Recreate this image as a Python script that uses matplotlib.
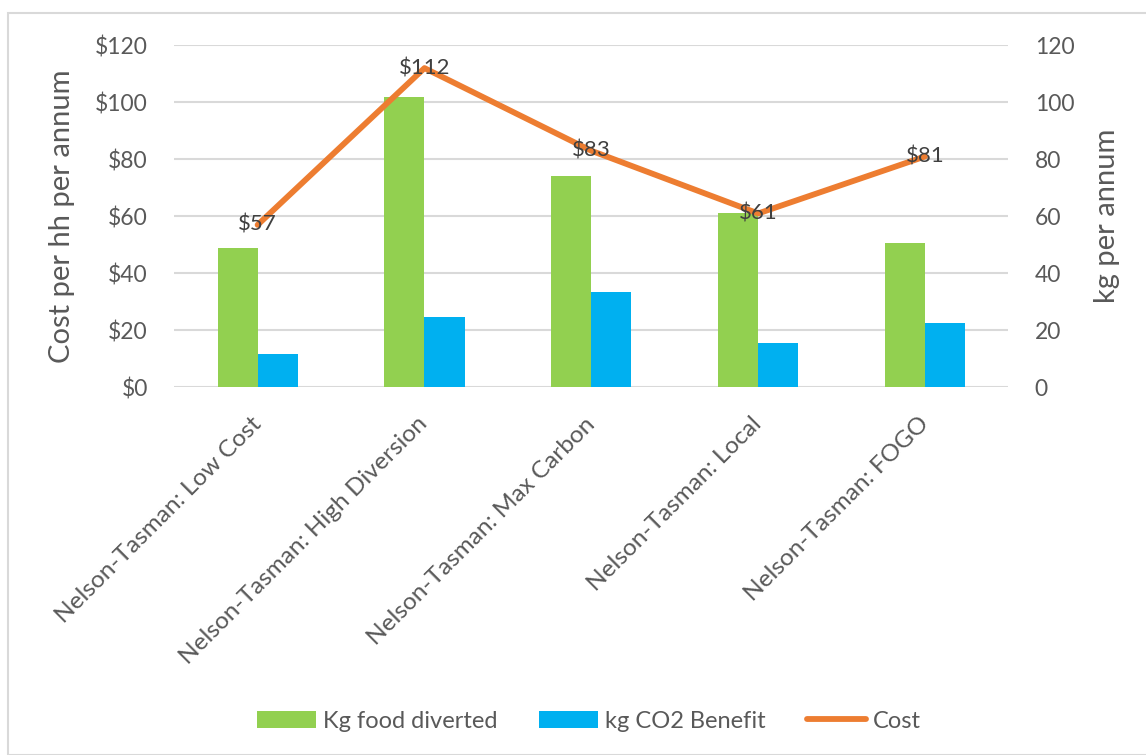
import numpy as np
import matplotlib.pyplot as plt
from matplotlib.patches import Rectangle

plt.rcParams['font.family'] = ['Lato', 'DejaVu Sans']

scenarios = ["Nelson-Tasman: Low Cost", "Nelson-Tasman: High Diversion",
             "Nelson-Tasman: Max Carbon", "Nelson-Tasman: Local",
             "Nelson-Tasman: FOGO"]
food_diverted = [49, 102, 74, 61, 50.5]
co2_benefit = [11.6, 24.5, 33.5, 15.5, 22.5]
cost = [57, 112, 83, 61, 81]

GREEN = '#92D050'
BLUE = '#00B0F0'
ORANGE = '#ED7D31'
TEXT = '#595959'
GRID = '#D9D9D9'

fig = plt.figure(figsize=(11.46, 7.55), dpi=100)
ax = fig.add_axes([0.152, 0.487, 0.728, 0.453])
ax2 = ax.twinx()

x = np.arange(len(scenarios))
w = 0.24

# bars on the kg axis
ax2.bar(x - w / 2, food_diverted, w, color=GREEN, label='Kg food diverted', zorder=2)
ax2.bar(x + w / 2, co2_benefit, w, color=BLUE, label='kg CO2 Benefit', zorder=2)

# cost line on the dollar axis, drawn above the bars
ax.set_zorder(ax2.get_zorder() + 1)
ax.patch.set_visible(False)
ax.plot(x, cost, color=ORANGE, lw=4.2, solid_capstyle='round', label='Cost', zorder=3)
for xi, c in zip(x, cost):
    ax.text(xi, c, f'${c}', ha='center', va='center', fontsize=16, color='#404040', zorder=4)

for a in (ax, ax2):
    a.set_ylim(0, 120)
    a.set_yticks(range(0, 121, 20))
    a.set_xlim(-0.5, len(scenarios) - 0.5)
    for s in a.spines.values():
        s.set_visible(False)
    a.tick_params(length=0, labelsize=16.5, labelcolor=TEXT, pad=19)

ax2.yaxis.grid(True, color=GRID, lw=1.5, zorder=0)
ax2.set_axisbelow(True)
ax.set_yticklabels([f'${v}' for v in range(0, 121, 20)])
ax.set_xticks(x)
ax.set_xticklabels(scenarios, rotation=45, ha='right', va='center',
                   rotation_mode='anchor', fontsize=17.6)
ax.tick_params(axis='x', pad=24)

ax.set_ylabel('Cost per hh per annum', fontsize=21, color=TEXT, labelpad=14)
ax2.set_ylabel('kg per annum', fontsize=21, color=TEXT, labelpad=14)

h1, l1 = ax2.get_legend_handles_labels()
h2, l2 = ax.get_legend_handles_labels()
fig.legend(h1 + h2, l1 + l2, loc='center', bbox_to_anchor=(0.514, 0.045), ncol=3,
           frameon=False, fontsize=17, labelcolor=TEXT, handlelength=2.5,
           handleheight=0.7, handletextpad=0.3, columnspacing=1.75)

# chart border
fig.patches.append(Rectangle((8 / 1146, 0.0), 1.2, 1 - 13 / 755, transform=fig.transFigure,
                             fill=False, edgecolor=GRID, lw=1.5))

fig.savefig('out.png', dpi=100)
